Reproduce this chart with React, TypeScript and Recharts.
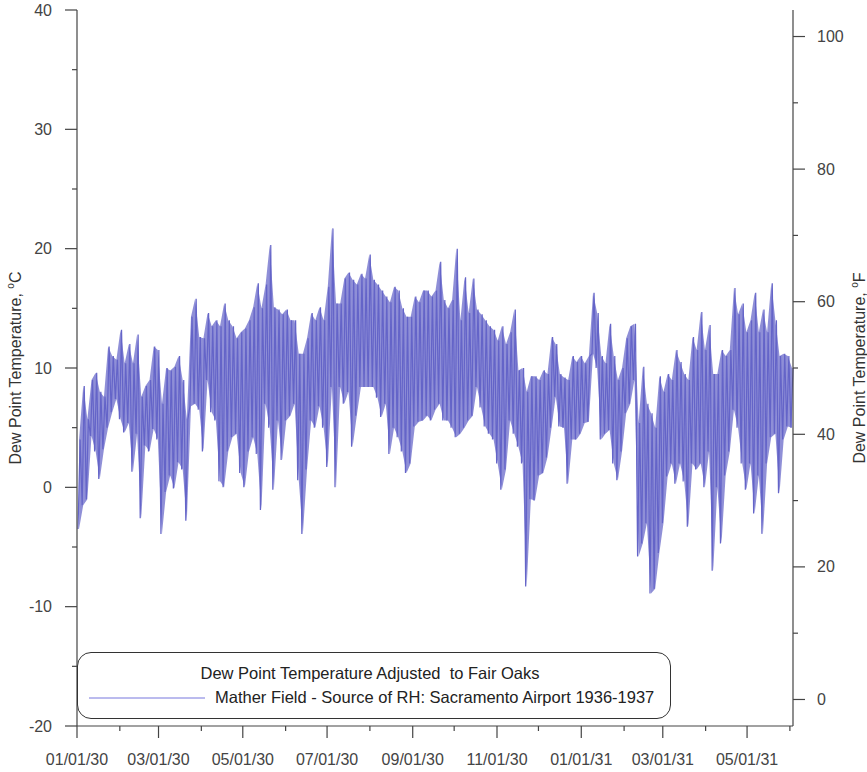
import { ComposedChart, Line, Area, XAxis, YAxis, Legend } from 'recharts';

const BLOCK_DAYS = 3;

const lowC = [
  -3.5, -1.5, -1, 4.3, 3, 0.7, 3.2, 5, 6.3, 7.4,
  5.7, 4.6, 5.4, 1.3, 4.5, -2.6, 3.5, 3, 4.9, 4,
  -3.9, -0.4, 1, -0.1, 2.1, 1.5, -2.8, 6.8, 7, 6.5,
  3, 9, 6.3, 5.6, 0.5, 0, 3, 4.2, 4.5, 1.2,
  0, 3, 4.2, 2.8, -1.9, 7, 5, -0.2, 5.6, 2.3,
  5.6, 6, 7, 0.6, -3.9, 1.5, 5.6, 5, 6.8, 5,
  1.7, 8.4, 0, 8.4, 7, 8, 3.4, 6, 8.4, 8.4,
  8.4, 8.4, 7.5, 5.9, 7, 2.8, 5, 4.2, 3, 1.2,
  2, 5.1, 5.5, 5.6, 6, 5.6, 6.5, 7, 5.6, 5.6,
  5, 4.2, 4.5, 5, 5.6, 6, 8.4, 6.7, 5.1, 4.5,
  4, 2, -0.2, 1.5, 5.6, 4.5, 3.4, 2, -8.3, -1,
  -1.1, 1, 1.2, 2.5, 5, 7.6, 5.1, 5, 0.3, 4,
  4, 4.5, 5.4, 5.5, 11.2, 10, 4, 4.5, 4.8, 2,
  0.6, 3, 6.2, 7, 9, -5.8, -4.7, -3, -8.9, -8.5,
  -5.5, -3, 0.9, 2, 0.3, 2, 0.5, -3.3, 2, 1.5,
  2, 0, 3, -7, 0, -4.7, 1, 3, 6.5, 5,
  2, -0.2, 2, -2.2, 1, -3.9, 2, 4.2, 4.5, -0.5,
  4, 5.1, 5,
];

const highC = [
  4, 8.5, 5.7, 9, 9.6, 8, 7.6, 11.8, 11, 10.7,
  13.2, 10.4, 12, 10.4, 12.8, 7.6, 8.5, 9, 11.8, 11.5,
  7, 10, 9.8, 10.1, 11, 9, 5.7, 14.3, 15.8, 12.6,
  12.5, 14.6, 13.5, 14, 13.5, 15.4, 14, 13.5, 12.5, 13,
  13.3, 14, 15.1, 17.1, 15, 17, 20.3, 15.1, 14.9, 14.5,
  14.9, 14, 14, 11.2, 11.2, 12.5, 14.6, 14, 15.1, 14,
  16.8, 21.7, 15.4, 15.4, 17.5, 18, 17.4, 17, 17.9, 17.5,
  19.5, 17.4, 17, 16.5, 16, 15.5, 16.8, 16.5, 15, 14.3,
  14.3, 16, 15.5, 16.5, 16.5, 16, 16.5, 18.9, 15.7, 15,
  15.7, 20, 14, 17.6, 14.6, 17.5, 14.9, 14.5, 14, 13.5,
  13.2, 12.3, 13.5, 12, 13, 14.9, 9.8, 10, 8, 9.3,
  9.3, 9, 9.8, 9.5, 12.6, 12, 9.5, 9.2, 9, 11,
  10.5, 11, 10.4, 11, 16.3, 14.6, 11, 10.4, 13.7, 11,
  9, 10, 12.5, 13.5, 13.7, 5.4, 10.1, 7, 6.2, 5,
  9.3, 8, 9.5, 9, 11.5, 10.5, 9.5, 9, 12.6, 11.5,
  14.7, 11.5, 13.6, 9.5, 9.5, 11.5, 11, 11.5, 16.7, 14.5,
  15.4, 13, 14, 16.3, 13, 14.9, 13, 17.1, 14, 11,
  11.2, 11, 10,
];

// days since 01/01/30 of each month start shown on the axis
const monthDays = [0, 31, 59, 90, 120, 151, 181, 212, 243, 273, 304, 334, 365, 396, 424, 455, 485, 516];
const labelDays = [0, 59, 120, 181, 243, 304, 365, 424, 485];
const labelText = ['01/01/30', '03/01/30', '05/01/30', '07/01/30', '09/01/30', '11/01/30', '01/01/31', '03/01/31', '05/01/31'];

const cTicks = [-20, -15, -10, -5, 0, 5, 10, 15, 20, 25, 30, 35, 40];
const fTicks = [0, 10, 20, 30, 40, 50, 60, 70, 80, 90, 100];

// zigzag low -> high inside each block
const data = lowC.flatMap((lo, i) => [
  { day: i * BLOCK_DAYS + 0.75, dew: lo },
  { day: i * BLOCK_DAYS + 2.25, dew: highC[i] },
]);

// daily range band, one entry per block
const bandData = lowC.map((lo, i) => ({ day: i * BLOCK_DAYS + 1.5, range: [lo, highC[i]] }));

const FONT = '"Liberation Sans", Arial, sans-serif';
const AXIS = '#444';
const TICK_TEXT = '#444';
const LINE = '#6464c8';

function XTick({ x, y, payload }: any) {
  const idx = labelDays.indexOf(payload.value);
  const major = idx >= 0;
  return (
    <g>
      <line x1={x} x2={x} y1={y} y2={y + (major ? 12 : 5)} stroke={AXIS} strokeWidth={1.2} />
      {major && (
        <text x={x} y={y + 33} textAnchor="middle" dominantBaseline="central" fontSize={16} fill={TICK_TEXT} fontFamily={FONT}>
          {labelText[idx]}
        </text>
      )}
    </g>
  );
}

function CTick({ x, y, payload }: any) {
  const major = payload.value % 10 === 0;
  return (
    <g>
      <line x1={x - (major ? 12 : 5)} x2={x} y1={y} y2={y} stroke={AXIS} strokeWidth={1.2} />
      {major && (
        <text x={x - 25} y={y} textAnchor="end" dominantBaseline="central" fontSize={16} fill={TICK_TEXT} fontFamily={FONT}>
          {payload.value}
        </text>
      )}
    </g>
  );
}

function FTick({ x, y, payload }: any) {
  const major = payload.value % 20 === 0;
  return (
    <g>
      <line x1={x} x2={x + (major ? 12 : 5)} y1={y} y2={y} stroke={AXIS} strokeWidth={1.2} />
      {major && (
        <text x={x + 24} y={y} textAnchor="start" dominantBaseline="central" fontSize={16} fill={TICK_TEXT} fontFamily={FONT}>
          {payload.value}
        </text>
      )}
    </g>
  );
}

function axisTitle(unit: string, dx: number) {
  return (props: any) => {
    const { x, y, height } = props.viewBox;
    const cx = x + dx;
    const cy = y + height / 2;
    return (
      <text
        x={cx}
        y={cy}
        transform={`rotate(-90 ${cx} ${cy})`}
        textAnchor="middle"
        dominantBaseline="central"
        fontSize={16}
        fill="#333"
        fontFamily={FONT}
      >
        Dew Point Temperature,{' '}
        <tspan fontSize={10} dy={-5}>o</tspan>
        <tspan dy={5}>{unit}</tspan>
      </text>
    );
  };
}

function LegendBox() {
  return (
    <div
      style={{
        position: 'relative',
        boxSizing: 'border-box',
        width: 594,
        height: 67,
        border: '1.2px solid #333',
        borderRadius: 14,
        background: '#fff',
        fontFamily: FONT,
        fontSize: 16.5,
        color: '#222',
      }}
    >
      <div style={{ position: 'absolute', left: 0, right: 0, top: 11, textAlign: 'center', paddingRight: 8, whiteSpace: 'nowrap' }}>
        Dew Point Temperature Adjusted&nbsp; to Fair Oaks
      </div>
      <svg width={116} height={4} style={{ position: 'absolute', left: 11, top: 43 }}>
        <line x1={0} x2={116} y1={2} y2={2} stroke="#7777dd" strokeWidth={1} />
      </svg>
      <div style={{ position: 'absolute', left: 137, top: 35, whiteSpace: 'nowrap' }}>
        Mather Field - Source of RH: Sacramento Airport 1936-1937
      </div>
    </div>
  );
}

export default function App() {
  return (
    <div style={{ position: 'absolute', left: 0, top: 0, background: '#fff' }}>
      <ComposedChart width={867} height={772} data={data} margin={{ top: 10, right: 14, bottom: 16, left: 17 }}>
        <XAxis
          dataKey="day"
          type="number"
          domain={[0, 518]}
          ticks={monthDays}
          interval={0}
          height={30}
          tickSize={0}
          tickMargin={0}
          tickLine={false}
          tick={<XTick />}
          axisLine={{ stroke: AXIS, strokeWidth: 1.2 }}
        />
        <YAxis
          yAxisId="c"
          type="number"
          domain={[-20, 40]}
          ticks={cTicks}
          interval={0}
          width={60}
          tickSize={0}
          tickMargin={0}
          tickLine={false}
          tick={<CTick />}
          axisLine={{ stroke: AXIS, strokeWidth: 1.2 }}
          label={axisTitle('C', -2)}
        />
        <YAxis
          yAxisId="f"
          orientation="right"
          type="number"
          domain={[-4, 104]}
          ticks={fTicks}
          interval={0}
          width={60}
          tickSize={0}
          tickMargin={0}
          tickLine={false}
          tick={<FTick />}
          axisLine={{ stroke: AXIS, strokeWidth: 1.2 }}
          allowDataOverflow
          label={axisTitle('F', 66)}
        />
        <Legend
          layout="horizontal"
          verticalAlign="middle"
          align="center"
          wrapperStyle={{ left: 77, top: 652, width: 594, height: 67 }}
          content={() => <LegendBox />}
        />
        <Area
          yAxisId="c"
          data={bandData}
          type="linear"
          dataKey="range"
          stroke="none"
          fill={LINE}
          fillOpacity={0.72}
          isAnimationActive={false}
          activeDot={false}
          legendType="none"
        />
        <Line
          yAxisId="c"
          type="linear"
          dataKey="dew"
          stroke={LINE}
          strokeWidth={1.2}
          dot={false}
          activeDot={false}
          isAnimationActive={false}
        />
      </ComposedChart>
    </div>
  );
}
